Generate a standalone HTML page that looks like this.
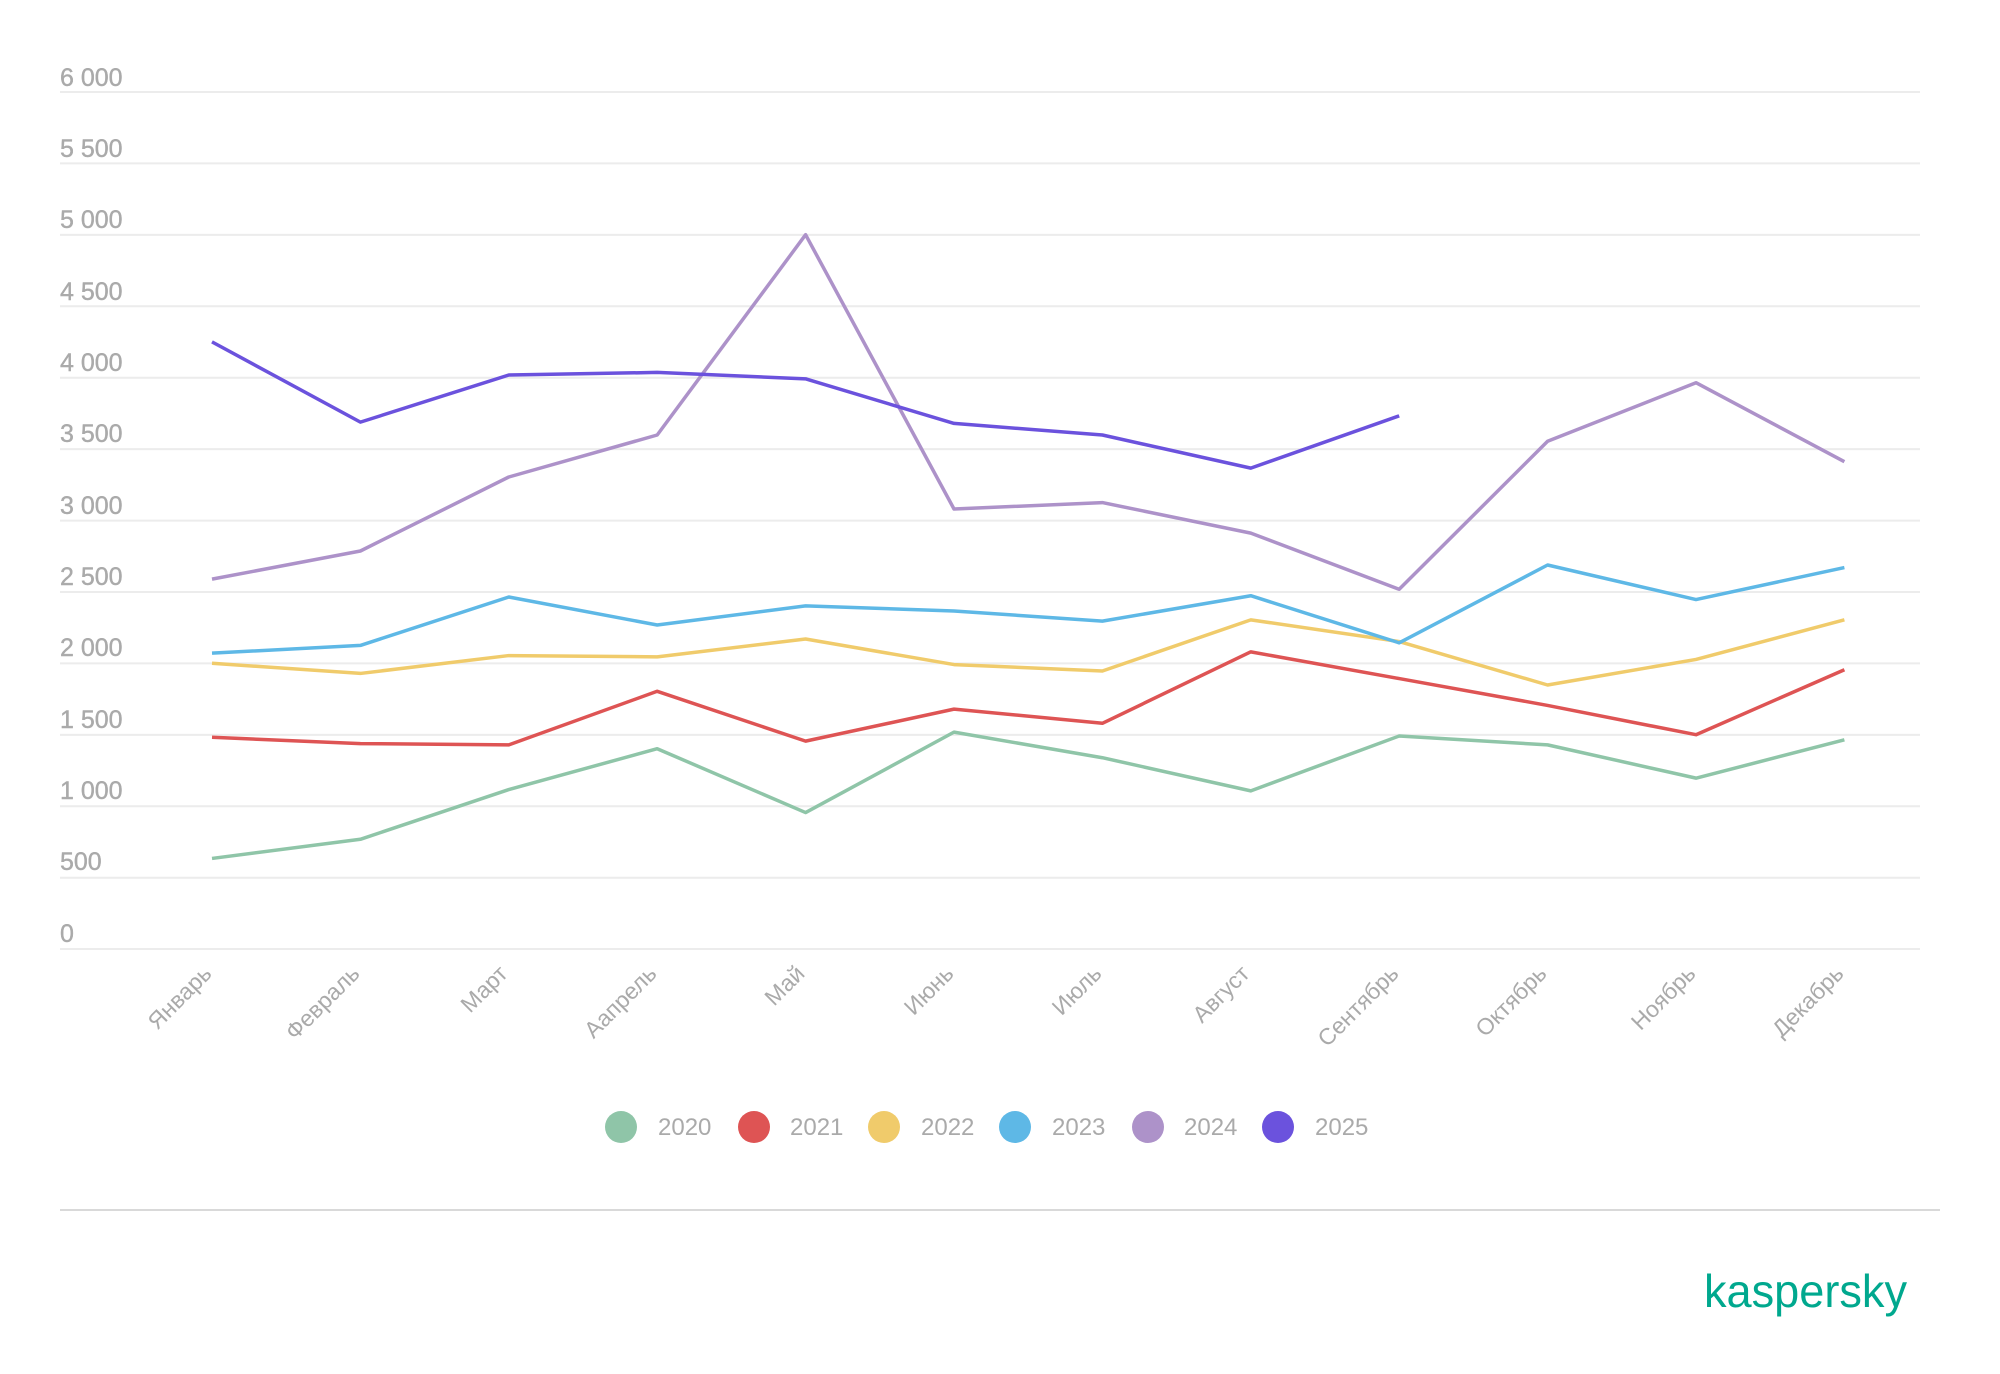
<!DOCTYPE html>
<html><head><meta charset="utf-8"><style>
html,body{margin:0;padding:0;background:#fff;}
svg{display:block;font-family:"Liberation Sans",Arial,sans-serif;}
</style></head><body>
<svg width="2000" height="1374" viewBox="0 0 2000 1374" xmlns="http://www.w3.org/2000/svg">
<g stroke="#ececec" stroke-width="2">
<line x1="60" x2="1920" y1="92" y2="92"/><line x1="60" x2="1920" y1="163.4" y2="163.4"/><line x1="60" x2="1920" y1="234.9" y2="234.9"/><line x1="60" x2="1920" y1="306.3" y2="306.3"/><line x1="60" x2="1920" y1="377.7" y2="377.7"/><line x1="60" x2="1920" y1="449.1" y2="449.1"/><line x1="60" x2="1920" y1="520.6" y2="520.6"/><line x1="60" x2="1920" y1="592" y2="592"/><line x1="60" x2="1920" y1="663.4" y2="663.4"/><line x1="60" x2="1920" y1="734.9" y2="734.9"/><line x1="60" x2="1920" y1="806.3" y2="806.3"/><line x1="60" x2="1920" y1="877.7" y2="877.7"/><line x1="60" x2="1920" y1="949" y2="949"/>
</g>
<g fill="#aaaaaa" font-size="25" stroke="#aaaaaa" stroke-width="0.4">
<text x="60" y="86">6 000</text><text x="60" y="157">5 500</text><text x="60" y="228">5 000</text><text x="60" y="300">4 500</text><text x="60" y="371">4 000</text><text x="60" y="442">3 500</text><text x="60" y="514">3 000</text><text x="60" y="585">2 500</text><text x="60" y="656">2 000</text><text x="60" y="728">1 500</text><text x="60" y="799">1 000</text><text x="60" y="870">500</text><text x="60" y="942">0</text>
</g>
<g fill="#aaaaaa" font-size="23" text-anchor="end">
<text transform="translate(213,975) rotate(-45)">Январь</text>
<text transform="translate(361,975) rotate(-45)">Февраль</text>
<text transform="translate(509,975) rotate(-45)">Март</text>
<text transform="translate(658,975) rotate(-45)">Аапрель</text>
<text transform="translate(806,975) rotate(-45)">Май</text>
<text transform="translate(955,975) rotate(-45)">Июнь</text>
<text transform="translate(1103,975) rotate(-45)">Июль</text>
<text transform="translate(1251,975) rotate(-45)">Август</text>
<text transform="translate(1400,975) rotate(-45)">Сентябрь</text>
<text transform="translate(1548,975) rotate(-45)">Октябрь</text>
<text transform="translate(1697,975) rotate(-45)">Ноябрь</text>
<text transform="translate(1845,975) rotate(-45)">Декабрь</text>
</g>
<g transform="translate(0,949) scale(1,-0.142857)" fill="none" stroke-width="3.5" stroke-linejoin="round">
<polyline vector-effect="non-scaling-stroke" stroke="#8fc5a8" points="212,634 360.4,768 508.8,1116 657.2,1402 805.6,955 954,1518 1102.4,1339 1250.8,1107 1399.2,1491 1547.6,1429 1696,1196 1844.4,1464"/>
<polyline vector-effect="non-scaling-stroke" stroke="#de5454" points="212,1482 360.4,1438 508.8,1429 657.2,1804 805.6,1455 954,1679 1102.4,1580 1250.8,2080 1399.2,1893 1547.6,1705 1696,1500 1844.4,1955"/>
<polyline vector-effect="non-scaling-stroke" stroke="#f0cb6b" points="212,2000 360.4,1929 508.8,2054 657.2,2045 805.6,2170 954,1991 1102.4,1946 1250.8,2304 1399.2,2152 1547.6,1848 1696,2027 1844.4,2304"/>
<polyline vector-effect="non-scaling-stroke" stroke="#5eb8e6" points="212,2071 360.4,2125 508.8,2464 657.2,2268 805.6,2402 954,2366 1102.4,2295 1250.8,2473 1399.2,2143 1547.6,2688 1696,2446 1844.4,2670"/>
<polyline vector-effect="non-scaling-stroke" stroke="#ad92c9" points="212,2589 360.4,2786 508.8,3304 657.2,3598 805.6,5000 954,3080 1102.4,3125 1250.8,2911 1399.2,2518 1547.6,3554 1696,3964 1844.4,3411"/>
<polyline vector-effect="non-scaling-stroke" stroke="#6b52dd" points="212,4250 360.4,3688 508.8,4018 657.2,4036 805.6,3991 954,3679 1102.4,3598 1250.8,3366 1399.2,3732"/>
</g>
<g font-size="24" fill="#aaaaaa">
<circle cx="621" cy="1127" r="16" fill="#8fc5a8"/><text x="658" y="1135">2020</text>
<circle cx="754" cy="1127" r="16" fill="#de5454"/><text x="790" y="1135">2021</text>
<circle cx="884" cy="1127" r="16" fill="#f0cb6b"/><text x="921" y="1135">2022</text>
<circle cx="1015" cy="1127" r="16" fill="#5eb8e6"/><text x="1052" y="1135">2023</text>
<circle cx="1148" cy="1127" r="16" fill="#ad92c9"/><text x="1184" y="1135">2024</text>
<circle cx="1278" cy="1127" r="16" fill="#6b52dd"/><text x="1315" y="1135">2025</text>
</g>
<line x1="60" x2="1940" y1="1210" y2="1210" stroke="#d9d9d9" stroke-width="2"/>
<text x="1704" y="1307" font-size="46" fill="#00a88e" textLength="203" lengthAdjust="spacingAndGlyphs">kaspersky</text>
</svg>
</body></html>
